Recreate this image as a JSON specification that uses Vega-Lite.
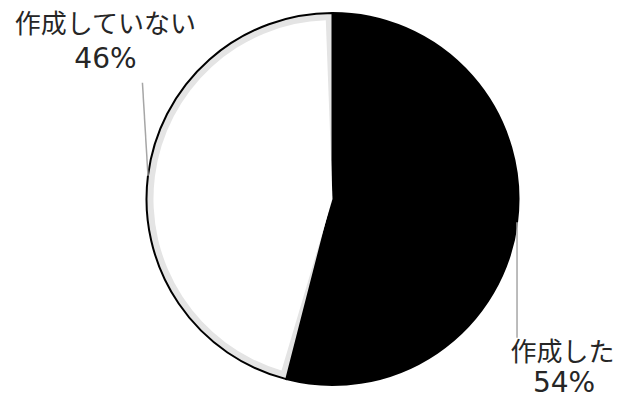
{
  "$schema": "https://vega.github.io/schema/vega-lite/v6.json",
  "width": 585,
  "height": 398,
  "autosize": {"type": "none"},
  "padding": {"left": 40, "right": 0, "top": 0, "bottom": 0},
  "background": "white",
  "config": {"view": {"stroke": null}},
  "data": {
    "values": [
      {"状態": "作成した", "割合": 54, "順": 1},
      {"状態": "作成していない", "割合": 46, "順": 2}
    ]
  },
  "resolve": {"scale": {"color": "independent"}},
  "layer": [
    {
      "mark": {"type": "arc", "outerRadius": 186, "stroke": "#000000", "strokeWidth": 2},
      "encoding": {
        "theta": {"field": "割合", "type": "quantitative", "stack": true},
        "order": {"field": "順", "type": "quantitative"},
        "color": {
          "field": "状態", "type": "nominal",
          "scale": {"domain": ["作成した", "作成していない"], "range": ["#000000", "#e4e4e4"]},
          "legend": null
        }
      }
    },
    {
      "mark": {"type": "arc", "outerRadius": 179, "padAngle": 0.075},
      "encoding": {
        "theta": {"field": "割合", "type": "quantitative", "stack": true},
        "order": {"field": "順", "type": "quantitative"},
        "color": {
          "field": "状態", "type": "nominal",
          "scale": {"domain": ["作成した", "作成していない"], "range": ["#000000", "#ffffff"]},
          "legend": null
        }
      }
    },
    {
      "transform": [
        {"joinaggregate": [{"op": "sum", "field": "割合", "as": "total"}]},
        {"window": [{"op": "sum", "field": "割合", "as": "cum"}], "sort": [{"field": "順"}], "frame": [null, 0]},
        {"calculate": "(datum.cum - datum['割合'] / 2) / datum.total * 2 * PI", "as": "mid"},
        {"calculate": "sin(datum.mid)", "as": "px"},
        {"calculate": "cos(datum.mid)", "as": "py"},
        {"calculate": "datum['順'] == 2 ? datum.px * 1.03 : datum.px", "as": "qx"},
        {"calculate": "datum['順'] == 2 ? datum.py + 0.5 : datum.py - 0.62", "as": "qy"},
        {"calculate": "datum['割合'] + '%'", "as": "pct"}
      ],
      "encoding": {
        "x": {"field": "qx", "type": "quantitative", "scale": {"domain": [-1.5726, 1.5726], "nice": false, "zero": false}, "axis": null},
        "y": {"field": "qy", "type": "quantitative", "scale": {"domain": [-1.0699, 1.0699], "nice": false, "zero": false}, "axis": null}
      },
      "layer": [
        {
          "mark": {"type": "rule", "color": "#a6a6a6", "strokeWidth": 1.5},
          "encoding": {
            "x": {"field": "px", "type": "quantitative"},
            "y": {"field": "py", "type": "quantitative"},
            "x2": {"field": "qx"},
            "y2": {"field": "qy"}
          }
        },
        {
          "transform": [{"filter": "datum['順'] == 2"}],
          "mark": {"type": "text", "font": "Noto Sans CJK JP", "fontSize": 26, "color": "#262626", "align": "center", "baseline": "alphabetic", "dx": -37, "dy": -50},
          "encoding": {"text": {"field": "状態", "type": "nominal"}}
        },
        {
          "transform": [{"filter": "datum['順'] == 2"}],
          "mark": {"type": "text", "font": "DejaVu Sans", "fontSize": 28, "color": "#262626", "align": "center", "baseline": "alphabetic", "dx": -37, "dy": -15},
          "encoding": {"text": {"field": "pct", "type": "nominal"}}
        },
        {
          "transform": [{"filter": "datum['順'] == 1"}],
          "mark": {"type": "text", "font": "Noto Sans CJK JP", "fontSize": 26, "color": "#262626", "align": "center", "baseline": "alphabetic", "dx": 45.5, "dy": 23},
          "encoding": {"text": {"field": "状態", "type": "nominal"}}
        },
        {
          "transform": [{"filter": "datum['順'] == 1"}],
          "mark": {"type": "text", "font": "DejaVu Sans", "fontSize": 28, "color": "#262626", "align": "center", "baseline": "alphabetic", "dx": 47, "dy": 54},
          "encoding": {"text": {"field": "pct", "type": "nominal"}}
        }
      ]
    }
  ]
}
